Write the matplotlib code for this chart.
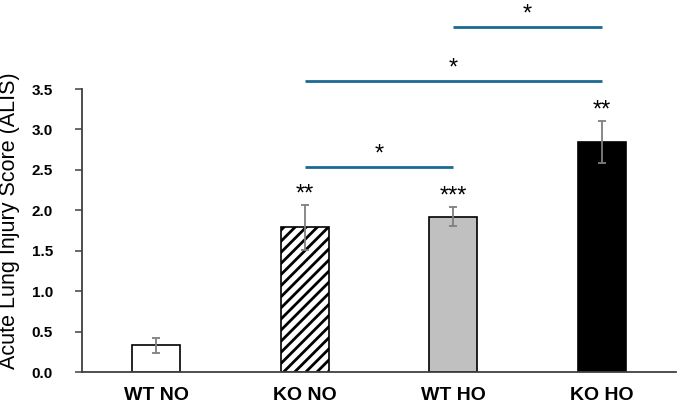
import matplotlib
matplotlib.use('Agg')
import matplotlib.pyplot as plt
import numpy as np

categories = ['WT NO', 'KO NO', 'WT HO', 'KO HO']
means = [0.33, 1.79, 1.92, 2.85]
sems = [0.09, 0.28, 0.12, 0.26]
bar_stars = ['', '**', '***', '**']
comparisons = [(1, 2), (1, 3), (2, 3)]
comparison_heights = [2.54, 3.60, 4.27]
comparison_labels = ['*', '*', '*']
yticks = [0.0, 0.5, 1.0, 1.5, 2.0, 2.5, 3.0, 3.5]
ylabel = 'Acute Lung Injury Score (ALIS)'

bar_colors = ['white', 'white', '#c0c0c0', 'black']
bar_hatches = ['', '///', '', '']

plt.rcParams['font.family'] = ['Liberation Sans', 'DejaVu Sans']
plt.rcParams['hatch.linewidth'] = 2.0
plt.rcParams['hatch.color'] = 'black'

fig = plt.figure(figsize=(6.78, 4.07), dpi=100)
ax = fig.add_axes([82 / 678, 35 / 407, (676 - 82) / 678, (372 - 89) / 407])

x = np.arange(len(categories))
bars = ax.bar(x, means, width=0.32, color=bar_colors, edgecolor='black',
              linewidth=1.2, zorder=2)
for b, h in zip(bars, bar_hatches):
    if h:
        b.set_hatch(h)

ax.errorbar(x, means, yerr=sems, fmt='none', ecolor='#7f7f7f',
            elinewidth=1.3, capsize=2.6, capthick=1.3, zorder=3)

ax.set_xlim(-0.5, 3.5)
ax.set_ylim(0, 3.5)
ax.set_yticks(yticks)
ax.set_yticklabels([f'{v:.1f}' for v in yticks], fontweight='bold', fontsize=11)
ax.set_xticks(x)
ax.set_xticklabels(categories, fontweight='bold', fontsize=14)
ax.tick_params(axis='x', length=0, pad=11)
ax.tick_params(axis='y', direction='out', length=5, width=1.1, pad=16,
               color='#404040')
for s in ['top', 'right']:
    ax.spines[s].set_visible(False)
for s in ['left', 'bottom']:
    ax.spines[s].set_color('#404040')
    ax.spines[s].set_linewidth(1.3)
ax.set_ylabel(ylabel, fontsize=15.5)
ax.yaxis.set_label_coords(-0.104, 0.535)

star_fs = 17
for xi, m, e, s in zip(x, means, sems, bar_stars):
    if s:
        ax.annotate(s, xy=(xi, m + e + 0.2), xytext=(0, -0.5 * star_fs),
                    textcoords='offset points', ha='center', va='baseline',
                    fontsize=star_fs, annotation_clip=False)

line_color = '#1b6a91'
for (i, j), h, lab in zip(comparisons, comparison_heights, comparison_labels):
    ax.plot([x[i], x[j]], [h, h], color=line_color, linewidth=2.0,
            clip_on=False, solid_capstyle='butt')
    ax.annotate(lab, xy=((x[i] + x[j]) / 2, h + 0.22), xytext=(0, -0.5 * star_fs),
                textcoords='offset points', ha='center', va='baseline',
                fontsize=star_fs, annotation_clip=False)

fig.savefig('out.png', dpi=100)
